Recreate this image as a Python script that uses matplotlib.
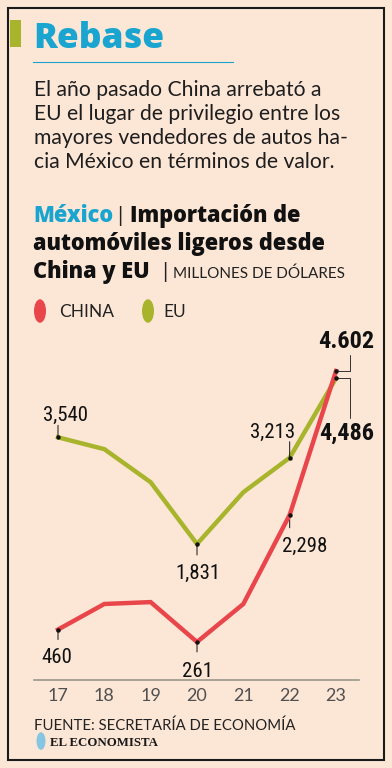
import matplotlib
matplotlib.use("Agg")
import matplotlib.pyplot as plt
from matplotlib.patches import Rectangle, Circle
from matplotlib.lines import Line2D

# ---------------- data ----------------
years = [17, 18, 19, 20, 21, 22, 23]
year_labels = ["17", "18", "19", "20", "21", "22", "23"]
china = [460, 870, 900, 261, 870, 2298, 4602]
eu = [3540, 3350, 2820, 1831, 2660, 3213, 4486]
china_labels = {17: "460", 20: "261", 22: "2,298"}
eu_labels = {17: "3,540", 20: "1,831", 22: "3,213"}
china_last_label = "4.602"
eu_last_label = "4,486"

title = "Rebase"
body = ["El año pasado China arrebató a",
        "EU el lugar de privilegio entre los",
        "mayores vendedores de autos ha-",
        "cia México en términos de valor."]
source = "FUENTE: SECRETARÍA DE ECONOMÍA"

BG = "#fce7d7"
BLUE = "#1aa5d0"
OLIVE = "#a8b52c"
RED = "#e9464b"
W, H = 392, 768
PT = 100 / 72  # px per point

fig = plt.figure(figsize=(W / 100, H / 100), dpi=100, facecolor=BG)

def P(x, y):
    return (x / W, 1 - y / H)

LIGHT = ["Lato", "DejaVu Sans"]
HEAVY = ["Open Sans", "DejaVu Sans"]
NARROW = ["Roboto Condensed", "Liberation Sans Narrow", "DejaVu Sans"]

# frame
fig.patches.append(Rectangle(P(8, 760), 376 / W, 752 / H, transform=fig.transFigure,
                             fill=False, edgecolor="#1a1a1a", linewidth=1.5))
# green bar
fig.patches.append(Rectangle(P(10, 47), 11 / W, 27 / H, transform=fig.transFigure,
                             facecolor=OLIVE, edgecolor="none"))
# title
fig.text(*P(33, 48), title, fontsize=25.5, fontweight="heavy", color=BLUE,
         family=HEAVY, va="baseline", ha="left")
fig.lines.append(Line2D([33 / W, 233 / W], [1 - 62 / H] * 2, transform=fig.transFigure,
                        color=BLUE, linewidth=0.8))
for i, line in enumerate(body):
    fig.text(*P(34, 96 + i * 24), line, fontsize=15.2, color="#1e1e1e",
             family=LIGHT, fontweight="normal", va="baseline", ha="left")

# subtitle
SUB = 15.7
fig.text(*P(33, 222), "México", fontsize=SUB, fontweight="heavy", color=BLUE,
         family=HEAVY, va="baseline")
fig.text(*P(117, 222), "|", fontsize=15, color="#222222", family=LIGHT,
         va="baseline")
fig.text(*P(130, 222), "Importación de", fontsize=SUB, fontweight="heavy",
         color="#111111", family=HEAVY, va="baseline")
fig.text(*P(33, 250), "automóviles ligeros desde", fontsize=SUB, fontweight="heavy",
         color="#111111", family=HEAVY, va="baseline")
fig.text(*P(33, 278), "China y EU", fontsize=SUB, fontweight="heavy",
         color="#111111", family=HEAVY, va="baseline")
fig.text(*P(162, 278), "|", fontsize=15, color="#222222", family=LIGHT,
         va="baseline")
fig.text(*P(173, 278), "MILLONES DE DÓLARES", fontsize=11, color="#222222",
         family=LIGHT, va="baseline")

# legend
for cx, col, lab, tx in [(40, RED, "CHINA", 59), (148, OLIVE, "EU", 163)]:
    fig.patches.append(Circle(P(cx, 311), 6 / W, transform=fig.transFigure,
                              facecolor=col, edgecolor="none"))
    fig.text(*P(tx, 317), lab, fontsize=12.5, color="#222222", family=LIGHT,
             va="baseline")

# ---------------- chart ----------------
x0, x1 = 34, 359
top, bot = 330, 680
ax = fig.add_axes([x0 / W, 1 - bot / H, (x1 - x0) / W, (bot - top) / H])
ax.set_facecolor("none")
ax.set_xlim(16.482, 23.496)
ax.set_ylim(-348, 5259)
ax.plot(years, eu, color=OLIVE, linewidth=3.2, solid_joinstyle="miter", zorder=3)
ax.plot(years, china, color=RED, linewidth=3.2, solid_joinstyle="miter", zorder=4)

for s in ["top", "left", "right"]:
    ax.spines[s].set_visible(False)
ax.spines["bottom"].set_color("#9a968c")
ax.spines["bottom"].set_linewidth(1.2)
ax.set_yticks([])
ax.set_xticks(years)
ax.set_xticklabels(year_labels, family=LIGHT, fontsize=13, color="#505050")
ax.tick_params(axis="x", length=0, pad=6)

NUM = dict(family=NARROW, fontstretch="condensed", color="#111111")

def label(x, y, text, dx_px, base_px, lead_px, ha="center"):
    """dx_px/base_px: label anchor offset in pixels (screen, y down)."""
    ax.plot([x], [y], "o", color="#111111", markersize=2.2, zorder=6)
    ax.annotate("", xy=(x, y), xytext=(0, -lead_px / PT), textcoords="offset points",
                arrowprops=dict(arrowstyle="-", color="#111111", lw=0.7,
                                shrinkA=0, shrinkB=0))
    ax.annotate(text, xy=(x, y), xytext=(dx_px / PT, -base_px / PT),
                textcoords="offset points", ha=ha, va="baseline",
                fontsize=15, **NUM)

# (dx, baseline offset, leader offset) in px, from the reference
eu_pos = {17: (7, -16, -12), 20: (1, 35, 11), 22: (-17, -20, -16)}
china_pos = {17: (-1, 33, 10), 20: (0, 35, 10), 22: (15, 37, 13)}
for i, yr in enumerate(years):
    if yr in eu_labels:
        label(yr, eu[i], eu_labels[yr], *eu_pos[yr])
    if yr in china_labels:
        label(yr, china[i], china_labels[yr], *china_pos[yr])

# last-year callouts
xl = years[-1]
cl, el = china[-1], eu[-1]
ax.plot([xl, xl], [cl, el], "o", color="#111111", markersize=2.2, zorder=6)
ax.annotate("", xy=(xl, cl), xytext=(14 / PT, 16 / PT), textcoords="offset points",
            arrowprops=dict(arrowstyle="-", color="#333333", lw=0.7,
                            connectionstyle="angle,angleA=90,angleB=0,rad=0",
                            shrinkA=0, shrinkB=0))
ax.annotate("", xy=(xl, el), xytext=(14 / PT, -40 / PT), textcoords="offset points",
            arrowprops=dict(arrowstyle="-", color="#333333", lw=0.7,
                            connectionstyle="angle,angleA=90,angleB=0,rad=0",
                            shrinkA=0, shrinkB=0))
ax.annotate(china_last_label, xy=(xl, cl), xytext=(10 / PT, 23 / PT),
            textcoords="offset points", ha="center", va="baseline", fontsize=17.5,
            fontweight="bold", annotation_clip=False, **NUM)
ax.annotate(eu_last_label, xy=(xl, el), xytext=(11 / PT, -61 / PT),
            textcoords="offset points", ha="center", va="baseline", fontsize=17.5,
            fontweight="bold", annotation_clip=False, **NUM)

# source
fig.text(*P(34, 730), source, fontsize=10.7, color="#222222", family=LIGHT,
         va="baseline")
fig.patches.append(Circle(P(41, 741), 4.5 / W, transform=fig.transFigure,
                          facecolor="#86c6e2", edgecolor="none"))
fig.text(*P(50, 746), "EL ECONOMISTA", fontsize=9.3, fontweight="bold",
         color="#1a1a1a", family=["Liberation Serif", "DejaVu Serif"], va="baseline")

fig.savefig("out.png", dpi=100, facecolor=BG)
